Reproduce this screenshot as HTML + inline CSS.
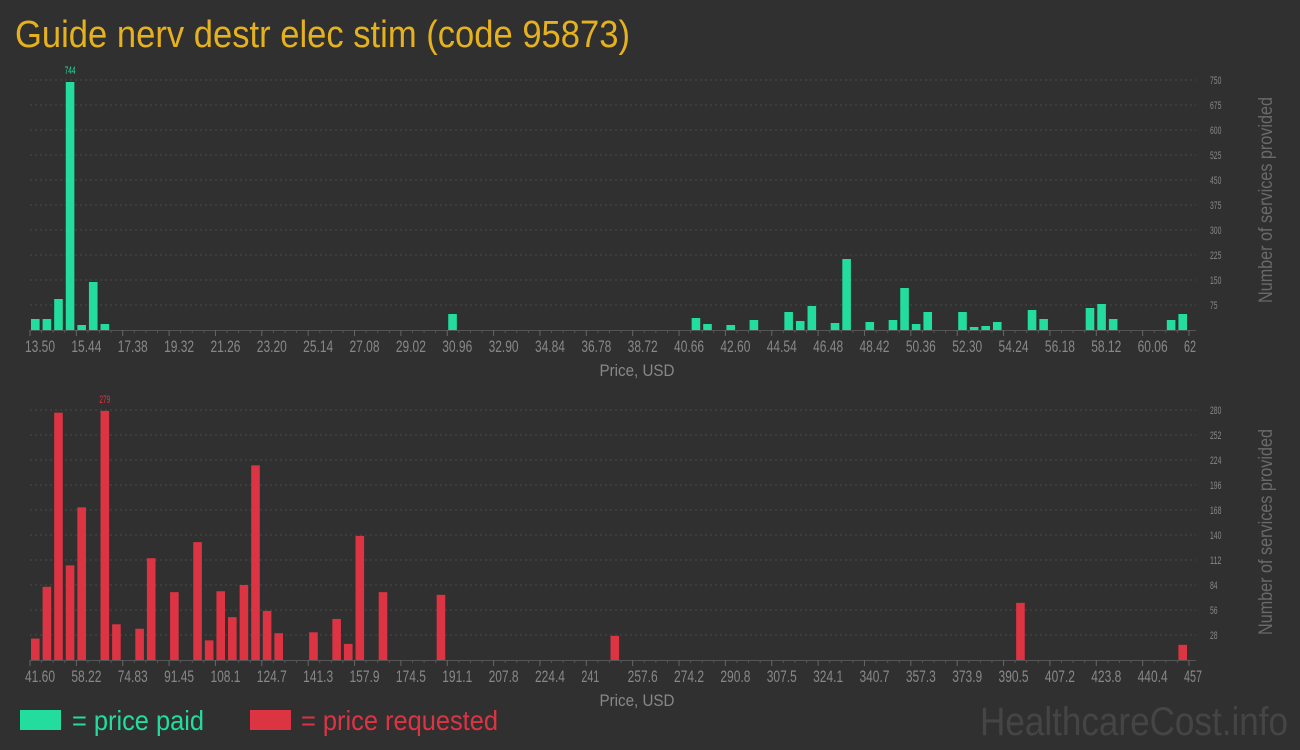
<!DOCTYPE html>
<html><head><meta charset="utf-8"><style>
html,body{margin:0;padding:0;background:#303030;width:1300px;height:750px;overflow:hidden}
svg{display:block}
text{font-family:"Liberation Sans",sans-serif}
</style></head><body>
<svg id="s" width="1300" height="750" xmlns="http://www.w3.org/2000/svg">
<rect width="1300" height="750" fill="#303030"/>
<text x="15" y="47" font-size="38" fill="#e6b11e" textLength="615" lengthAdjust="spacingAndGlyphs">Guide nerv destr elec stim (code 95873)</text>
<text x="1272" y="200" font-size="19" fill="#6a6a6a" text-anchor="middle" transform="rotate(-90 1272 200)" textLength="206" lengthAdjust="spacingAndGlyphs">Number of services provided</text>
<text x="1272" y="532" font-size="19" fill="#6a6a6a" text-anchor="middle" transform="rotate(-90 1272 532)" textLength="206" lengthAdjust="spacingAndGlyphs">Number of services provided</text>
<text x="637" y="376" font-size="17" fill="#888" text-anchor="middle" textLength="75" lengthAdjust="spacingAndGlyphs">Price, USD</text>
<text x="637" y="706" font-size="17" fill="#888" text-anchor="middle" textLength="75" lengthAdjust="spacingAndGlyphs">Price, USD</text>
<rect x="20" y="710" width="41" height="20" fill="#22dd9d"/>
<text x="72" y="730" font-size="28" fill="#22dd9d" textLength="132" lengthAdjust="spacingAndGlyphs">= price paid</text>
<rect x="250" y="710" width="41" height="20" fill="#dd3444"/>
<text x="301" y="730" font-size="28" fill="#dd3444" textLength="197" lengthAdjust="spacingAndGlyphs">= price requested</text>
<text x="980" y="735" font-size="40" fill="#454545" textLength="308" lengthAdjust="spacingAndGlyphs">HealthcareCost.info</text>
<g id="g"></g>
</svg>
<script>
var g=document.getElementById('g'),NS='http://www.w3.org/2000/svg';
function el(t,a,txt){var e=document.createElementNS(NS,t);for(var k in a)e.setAttribute(k,a[k]);if(txt!=null)e.textContent=txt;g.appendChild(e);return e;}
function chart(base,maxv,step,labels,bars,color,peakLbl){
  for(var v=step;v<=maxv+0.01;v+=step){var y=base-250*v/maxv;
    el('line',{x1:30,x2:1196,y1:y,y2:y,stroke:'#4a4a4a','stroke-dasharray':'2,3'});
    el('text',{x:1210,y:y+4,'font-size':11,fill:'#888',textLength:String(Math.round(v)).length*3.8,lengthAdjust:'spacingAndGlyphs'},String(Math.round(v)));}
  el('line',{x1:30,x2:1196,y1:base+0.5,y2:base+0.5,stroke:'#555'});
  for(var i=0;i<labels.length;i++){var x=30+46.36*i;
    el('line',{x1:x,x2:x,y1:base,y2:base+6,stroke:'#666'});
    if(i<labels.length-1){for(var m=1;m<4;m++){var xm=x+11.59*m;el('line',{x1:xm,x2:xm,y1:base,y2:base+3,stroke:'#555'});}}
    el('text',{x:x-5,y:base+22,'font-size':17,fill:'#888',textLength:labels[i].length*6,lengthAdjust:'spacingAndGlyphs'},labels[i]);}
  var pk=null;
  bars.forEach(function(b){var x=31+11.59*b[0],h=250*b[1]/maxv;
    el('rect',{x:x,y:base-h,width:8.6,height:h,fill:color});
    if(!pk||b[1]>pk[1])pk=b;});
  var px=31+11.59*pk[0]+4.3;
  el('text',{x:px,y:base-250*pk[1]/maxv-8,'font-size':11,fill:color,'text-anchor':'middle',textLength:11,lengthAdjust:'spacingAndGlyphs'},peakLbl);
}
var tl=[];for(var i=0;i<25;i++)tl.push((13.5+1.94*i).toFixed(2));tl.push('62');
chart(330,750,75,tl,[[0,33],[1,33],[2,93],[3,744],[4,15],[5,144],[6,18],[36,48],[57,36],[58,18],[60,15],[62,30],[65,54],[66,27],[67,72],[69,21],[70,213],[72,24],[74,30],[75,126],[76,18],[77,54],[80,54],[81,9],[82,12],[83,24],[86,60],[87,33],[91,66],[92,78],[93,33],[98,30],[99,48]],'#22dd9d','744');
var bl=['41.60','58.22','74.83','91.45','108.1','124.7','141.3','157.9','174.5','191.1','207.8','224.4','241','257.6','274.2','290.8','307.5','324.1','340.7','357.3','373.9','390.5','407.2','423.8','440.4','457'];
chart(660,280,28,bl,[[0,24],[1,82],[2,277],[3,106],[4,171],[6,279],[7,40],[9,35],[10,114],[12,76],[14,132],[15,22],[16,77],[17,48],[18,84],[19,218],[20,55],[21,30],[24,31],[26,46],[27,18],[28,139],[30,76],[35,73],[50,27],[85,64],[99,17]],'#dd3444','279');
</script>
</body></html>
